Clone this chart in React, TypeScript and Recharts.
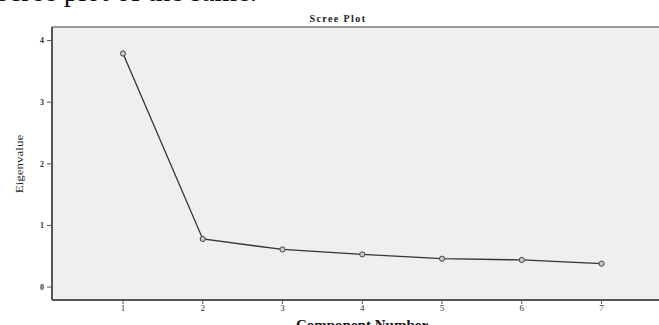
import { LineChart, Line, XAxis, YAxis, CartesianGrid, ReferenceLine } from "recharts";

// scree plot: eigenvalue per component
const components = [1, 2, 3, 4, 5, 6, 7];
const eigenvalues = [3.79, 0.78, 0.61, 0.53, 0.46, 0.44, 0.38];
const xTicks = [1, 2, 3, 4, 5, 6, 7];
const yTicks = [0, 1, 2, 3, 4];

const data = components.map((c, i) => ({ component: c, eigenvalue: eigenvalues[i] }));

const serif = "'Liberation Serif', 'Times New Roman', serif";

export default function App() {
  return (
    <div
      style={{
        position: "absolute",
        left: 0,
        top: 0,
        width: 659,
        height: 325,
        overflow: "hidden",
        background: "#fff",
      }}
    >
      <div
        style={{
          position: "absolute",
          left: -3,
          top: -25,
          fontFamily: serif,
          fontSize: 29,
          whiteSpace: "nowrap",
          color: "#111",
        }}
      >
        scree plot of the same.
      </div>
      <div
        style={{
          position: "absolute",
          left: 0,
          width: 676,
          top: 13,
          textAlign: "center",
          fontFamily: serif,
          fontWeight: "bold",
          fontSize: 10,
          letterSpacing: 1.4,
          color: "#222",
        }}
      >
        Scree Plot
      </div>
      <LineChart
        width={659}
        height={325}
        data={data}
        margin={{ top: 27, right: 0, left: 12, bottom: 5 }}
        style={{ position: "absolute", left: 0, top: 0 }}
      >
        <CartesianGrid fill="#efefef" horizontal={false} vertical={false} />
        <ReferenceLine y={4.22} stroke="#9a9a9a" strokeWidth={2} />
        <XAxis
          dataKey="component"
          type="number"
          domain={[0.11, 7.72]}
          ticks={xTicks}
          height={20}
          tickSize={4}
          tickMargin={1}
          stroke="#555"
          axisLine={{ stroke: "#555", strokeWidth: 2 }}
          tick={{ fontSize: 9, fill: "#333", fontFamily: serif }}
          allowDataOverflow
        />
        <YAxis
          type="number"
          domain={[-0.21, 4.22]}
          ticks={yTicks}
          width={40}
          tickSize={5}
          tickMargin={3}
          stroke="#555"
          axisLine={{ stroke: "#555", strokeWidth: 2 }}
          tick={{ fontSize: 8, fill: "#333", fontFamily: serif, fontWeight: "bold" }}
          allowDataOverflow
        />
        <Line
          type="linear"
          dataKey="eigenvalue"
          stroke="#333"
          strokeWidth={1.3}
          dot={{ r: 2.6, stroke: "#444", strokeWidth: 1, fill: "#c8c8c8" }}
          isAnimationActive={false}
        />
      </LineChart>
      <div
        style={{
          position: "absolute",
          left: 20,
          top: 164,
          transform: "translate(-50%, -50%) rotate(-90deg) scaleY(0.85)",
          fontFamily: serif,
          fontSize: 13,
          whiteSpace: "nowrap",
          color: "#222",
        }}
      >
        Eigenvalue
      </div>
      <div
        style={{
          position: "absolute",
          left: 362,
          top: 317,
          transform: "translateX(-50%)",
          fontFamily: serif,
          fontWeight: "bold",
          fontSize: 15,
          whiteSpace: "nowrap",
          color: "#111",
        }}
      >
        Component Number
      </div>
    </div>
  );
}
